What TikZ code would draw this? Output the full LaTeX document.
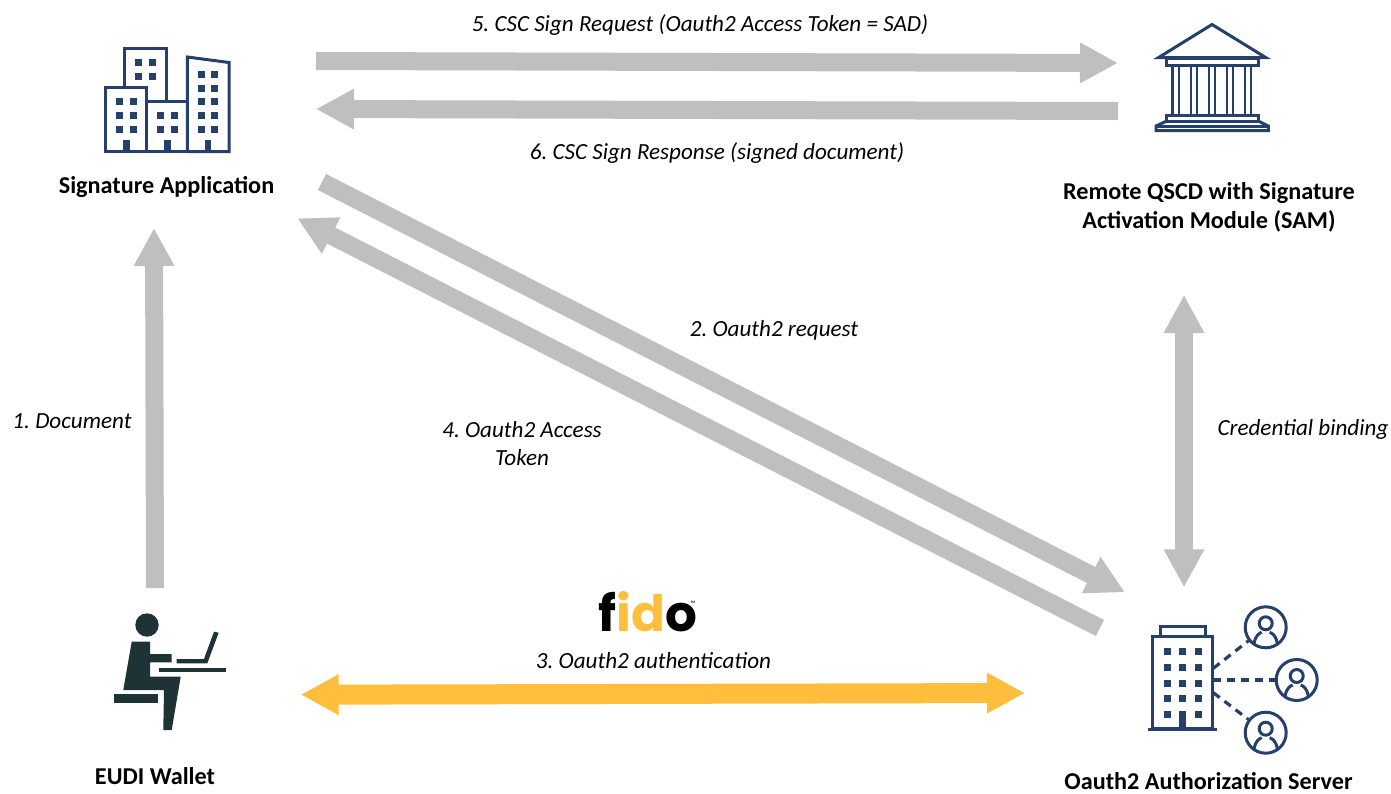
\documentclass[tikz,border=0pt]{standalone}
\usepackage{fontspec}
\setmainfont{Carlito}
\newfontfamily\fidofont{Poppins}
\usetikzlibrary{arrows.meta, positioning}
\definecolor{navyIcon}{HTML}{24406B}
\definecolor{tealIcon}{HTML}{1D3335}
\definecolor{flowGrey}{HTML}{BFBFBF}
\definecolor{flowGold}{HTML}{FFBF3C}
\tikzset{
    flowEdge/.style={-{Triangle[length=38pt, width=38pt]}, line width=18pt, draw=flowGrey},
    flowBoth/.style={{Triangle[length=38pt, width=38pt]}-{Triangle[length=38pt, width=38pt]}, line width=18pt, draw=flowGrey},
    flowAuth/.style={{Triangle[length=38pt, width=38pt]}-{Triangle[length=38pt, width=38pt]}, line width=20pt, draw=flowGold},
    roleLabel/.style={font=\fontsize{24.2}{29}\selectfont\bfseries, align=center, inner sep=0pt},
    stepLabel/.style={font=\fontsize{23.1}{28}\selectfont\itshape, align=center, inner sep=0pt},
    iconLine/.style={draw=navyIcon, line width=3pt, line join=miter},
    userRing/.style={circle, draw=navyIcon, line width=3pt, minimum size=41pt, inner sep=0pt},
    userLink/.style={draw=navyIcon, line width=3.2pt, dash pattern=on 8pt off 6pt},
}
\newcommand{\drawPane}[2]{
    \fill[navyIcon] (#1-3.5,#2-3.5) rectangle (#1+3.5,#2+3.5);
}
\newcommand{\drawUser}[2]{
    \draw[iconLine] (#1,#2-4) circle (6.5);
    \draw[iconLine] (#1-11.7,#2+16.5) .. controls (#1-10,#2+7) and (#1-6,#2+6) .. (#1-4,#2+5);
    \draw[iconLine] (#1+11.7,#2+16.5) .. controls (#1+10,#2+7) and (#1+6,#2+6) .. (#1+4,#2+5);
}

\begin{document}
\frenchspacing
\begin{tikzpicture}[x=1pt, y=-1pt]

    \useasboundingbox (0,0) rectangle (1391,793);

    % office blocks
    \draw[iconLine] (105,87.5) rectangle (146.7,151.7);
    \draw[iconLine] (124.3,87.5) -- (124.3,48.3) -- (166,48.3) -- (166,101.7);
    \draw[iconLine] (146.7,101.7) -- (187.3,101.7);
    \draw[iconLine] (146.7,151.7) -- (187.3,151.7);
    \draw[iconLine] (187.3,151.7) -- (187.3,57) -- (229,62.5) -- (229,151.7) -- cycle;
    \foreach \py in {101.7,115.3,129} {
        \drawPane{119.7}{\py}
        \drawPane{133.3}{\py}
    }
    \foreach \py in {62.7,76.3} {
        \drawPane{138.3}{\py}
        \drawPane{152}{\py}
    }
    \foreach \py in {115.3,129} {
        \drawPane{160.3}{\py}
        \drawPane{174}{\py}
    }
    \foreach \py in {74.3,88,101.7,115.3,129} {
        \drawPane{201}{\py}
        \drawPane{214.7}{\py}
    }
    \foreach \px in {126.3,167.3,208} {
        \fill[navyIcon] (\px-3.3,140) rectangle (\px+3.3,151);
    }

    % temple
    \draw[iconLine] (1212,24.5) -- (1266,57.7) -- (1158.3,57.7) -- cycle;
    \draw[iconLine] (1166.7,58) rectangle (1258.3,65);
    \foreach \px in {1172.7,1179,1191,1197,1209,1215,1227,1233,1245,1251} {
        \draw[draw=navyIcon, line width=2.6pt] (\px,65) -- (\px,114);
    }
    \draw[iconLine] (1166.7,115) rectangle (1258.3,121);
    \draw[iconLine] (1166.7,121) -- (1156,126) -- (1156,130.7) -- (1268.3,130.7) -- (1268.3,126) -- (1258.3,121);
    \draw[iconLine] (1156,126) -- (1268.3,126);

    % person at the desk
    \fill[tealIcon] (147,625) circle (11.7);
    \fill[tealIcon] (131.7,641.7) -- (150,641.7) -- (150,654) -- (171.7,654) -- (171.7,662.3) -- (150,662.3) -- (150,676.7) -- (180.7,676.7) -- (171.7,730) -- (163.3,730) -- (164,690) -- (123.3,690) -- cycle;
    \fill[tealIcon] (114,694.3) rectangle (158.3,703.3);
    \fill[tealIcon] (159,667.7) rectangle (225.7,672);
    \fill[tealIcon] (176.7,659) -- (204,659) -- (214,631.7) -- (218.7,632.7) -- (207.3,663.3) -- (176.7,663.3) -- cycle;

    % server tower and its users
    \draw[iconLine] (1160,636.7) -- (1160,626.7) -- (1205,626.7) -- (1205,636.7);
    \node[draw=navyIcon, line width=3pt, minimum width=60pt, minimum height=91.6pt, inner sep=0pt] (orgTower) at (1182.7,682.5) {};
    \draw[iconLine] (1148.3,729.5) -- (1217.3,729.5);
    \foreach \py in {651.7,667.3,683,698.3} {
        \foreach \px in {1167,1182.7,1198.3} {
            \drawPane{\px}{\py}
        }
    }
    \drawPane{1167}{714}
    \drawPane{1198.3}{714}
    \fill[navyIcon] (1179,710.7) rectangle (1186.4,728);

    \node[userRing] (userTop) at (1265.7,627.3) {};
    \node[userRing] (userMid) at (1296.7,680) {};
    \node[userRing] (userLow) at (1265.7,732.7) {};
    \drawUser{1265.7}{627.3}
    \drawUser{1296.7}{680}
    \drawUser{1265.7}{732.7}
    \coordinate (linkTop) at (1213.3,668.3);
    \coordinate (linkMid) at (1213.3,680);
    \coordinate (linkLow) at (1213.3,692.7);
    \draw[userLink] (linkTop) -- (userTop);
    \draw[userLink] (linkMid) -- (userMid);
    \draw[userLink] (linkLow) -- (userLow);

    % role names
    \node[roleLabel] (sigApp) at (166.5,187) {Signature Application};
    \node[roleLabel] (qscd) at (1209,207.5) {Remote QSCD with Signature\\Activation Module (SAM)};
    \node[roleLabel] (wallet) at (155,776) {EUDI Wallet};
    \node[roleLabel] (authServer) at (1208.5,781.5) {Oauth2 Authorization Server};

    % flow ends
    \coordinate (signOutA) at (316,61);
    \coordinate (signOutB) at (1118,63);
    \coordinate (signBackA) at (1118,111);
    \coordinate (signBackB) at (316,109);
    \coordinate (reqA) at (322,182);
    \coordinate (reqB) at (1125,592.3);
    \coordinate (tokenA) at (1100,628);
    \coordinate (tokenB) at (297.3,218.3);
    \coordinate (docA) at (155,588);
    \coordinate (docB) at (154,228);
    \coordinate (bindA) at (1184,295);
    \coordinate (bindB) at (1184,587.3);
    \coordinate (fidoA) at (300.7,694.7);
    \coordinate (fidoB) at (1025,693);

    \draw[flowEdge] (signOutA) -- (signOutB);
    \draw[flowEdge] (signBackA) -- (signBackB);
    \draw[flowEdge] (reqA) -- (reqB);
    \draw[flowEdge] (tokenA) -- (tokenB);
    \draw[flowEdge] (docA) -- (docB);
    \draw[flowBoth] (bindA) -- (bindB);
    \draw[flowAuth] (fidoA) -- (fidoB);

    % step labels
    \node[stepLabel] (stepFive) at (700,25.5) {5. CSC Sign Request (Oauth2 Access Token = SAD)};
    \node[stepLabel] (stepSix) at (717,153) {6. CSC Sign Response (signed document)};
    \node[stepLabel] (stepTwo) at (774,330.5) {2. Oauth2 request};
    \node[stepLabel] (stepOne) at (72,421) {1. Document};
    \node[stepLabel] (stepFour) at (522,444) {4. Oauth2 Access\\Token};
    \node[stepLabel] (stepBind) at (1303,429.5) {Credential binding};
    \node[stepLabel] (stepThree) at (653.5,661) {3. Oauth2 authentication};

    \node[font=\fontsize{50}{50}\selectfont\fidofont\bfseries, inner sep=0pt] (fidoLogo) at (648,612) {f\textcolor{flowGold}{id}o};
    \node[font=\fontsize{6}{6}\selectfont\fidofont, inner sep=0pt] (fidoMark) at (693,603) {™};

\end{tikzpicture}
\end{document}
